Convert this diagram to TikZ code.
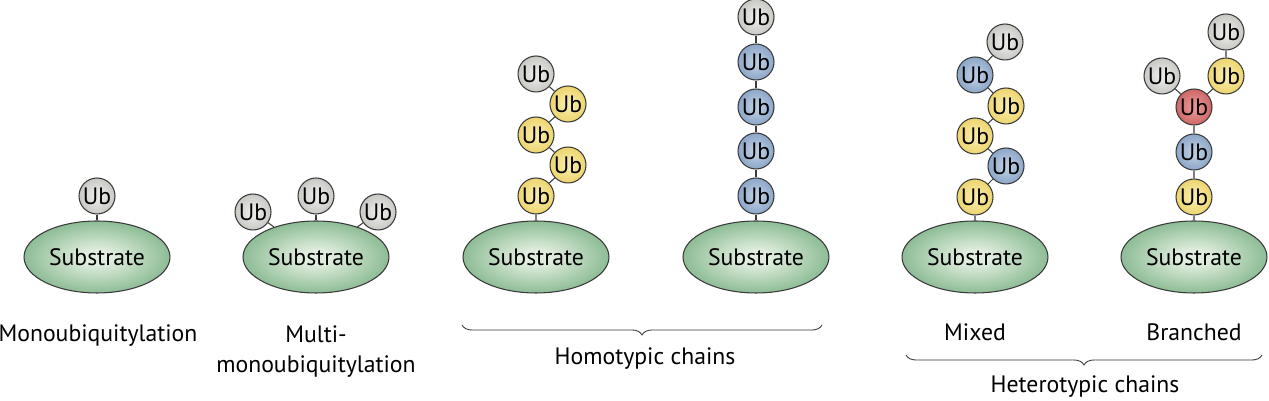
\documentclass[tikz,border=0pt]{standalone}
\usepackage{fontspec}
\setmainfont{PT Sans}
\usetikzlibrary{shapes.geometric,decorations.pathreplacing}

\definecolor{grayin}{HTML}{E8E9E6}
\definecolor{grayout}{HTML}{A9ABA5}
\definecolor{yelin}{HTML}{F8EAA4}
\definecolor{yelout}{HTML}{E2C03C}
\definecolor{bluein}{HTML}{B8CAE0}
\definecolor{blueout}{HTML}{6285B2}
\definecolor{redin}{HTML}{E69290}
\definecolor{redout}{HTML}{B63E40}
\definecolor{subin}{HTML}{E0EEDE}
\definecolor{subout}{HTML}{3F8D50}
\definecolor{edge}{HTML}{3A3A3A}
\colorlet{shin}{white}
\colorlet{shout}{black}
\pgfdeclareradialshading[shin,shout]{soft}{\pgfpointorigin}{color(0bp)=(shin); color(5bp)=(shin); color(44bp)=(shout); color(50bp)=(shout)}

\begin{document}
\begin{tikzpicture}[x=0.02cm,y=-0.02cm,
  ub/.style={circle,draw=edge,line width=0.6pt,minimum size=0.72cm,inner sep=0pt,shading=soft,font=\fontsize{13.5}{15}\selectfont},
  gy/.style={ub,/utils/exec={\colorlet{shin}{grayin}\colorlet{shout}{grayout}}},
  yl/.style={ub,/utils/exec={\colorlet{shin}{yelin}\colorlet{shout}{yelout}}},
  bl/.style={ub,/utils/exec={\colorlet{shin}{bluein}\colorlet{shout}{blueout}}},
  rd/.style={ub,/utils/exec={\colorlet{shin}{redin}\colorlet{shout}{redout}}},
  sub/.style={ellipse,draw=edge,line width=0.6pt,minimum width=2.92cm,minimum height=1.44cm,inner sep=0pt,shading=soft,
    /utils/exec={\colorlet{shin}{subin}\colorlet{shout}{subout}},font=\fontsize{13.5}{15}\selectfont},
  link/.style={draw=edge,line width=0.6pt},
  lbl/.style={inner sep=0pt,font=\fontsize{13.5}{17.5}\selectfont},
  brc/.style={draw=edge,line width=0.5pt,decorate,decoration={brace,mirror,amplitude=0.2cm}}]
\useasboundingbox (0,0) rectangle (1269,401);

% substrates
\node[sub] (sub1) at (97,257) {Substrate};
\node[sub] (sub2) at (316,257) {Substrate};
\node[sub] (sub3) at (536,257) {Substrate};
\node[sub] (sub4) at (756,257) {Substrate};
\node[sub] (sub5) at (975,257) {Substrate};
\node[sub] (sub6) at (1194,257) {Substrate};

% mono
\node[gy] (u1) at (97,196) {Ub};
\draw[link] (u1)--(sub1);

% multi-mono
\node[gy] (m1) at (253,212) {Ub};
\node[gy] (m2) at (316,196) {Ub};
\node[gy] (m3) at (378,212) {Ub};
\draw[link] (m1)--(sub2);
\draw[link] (m2)--(sub2);
\draw[link] (m3)--(sub2);

% homotypic, zig-zag
\node[yl] (h1) at (536,196) {Ub};
\node[yl] (h2) at (568,165) {Ub};
\node[yl] (h3) at (536,135) {Ub};
\node[yl] (h4) at (568,104) {Ub};
\node[gy] (h5) at (536,74) {Ub};
\draw[link] (sub3)--(h1)--(h2)--(h3)--(h4)--(h5);

% homotypic, straight
\node[bl] (k1) at (756,196) {Ub};
\node[bl] (k2) at (756,151) {Ub};
\node[bl] (k3) at (756,107) {Ub};
\node[bl] (k4) at (756,62) {Ub};
\node[gy] (k5) at (756,17) {Ub};
\draw[link] (sub4)--(k1)--(k2)--(k3)--(k4)--(k5);

% mixed
\node[yl] (x1) at (975,197) {Ub};
\node[bl] (x2) at (1006,166) {Ub};
\node[yl] (x3) at (975,136) {Ub};
\node[yl] (x4) at (1006,106) {Ub};
\node[bl] (x5) at (975,75) {Ub};
\node[gy] (x6) at (1005,42) {Ub};
\draw[link] (sub5)--(x1)--(x2)--(x3)--(x4)--(x5)--(x6);

% branched
\node[yl] (b1) at (1194,197) {Ub};
\node[bl] (b2) at (1194,152) {Ub};
\node[rd] (b3) at (1194,107) {Ub};
\node[gy] (b4) at (1162,76) {Ub};
\node[yl] (b5) at (1226,76) {Ub};
\node[gy] (b6) at (1226,32) {Ub};
\draw[link] (sub6)--(b1)--(b2)--(b3)--(b4);
\draw[link] (b3)--(b5)--(b6);

% labels
\node[lbl,anchor=base] (l1) at (98,342) {Monoubiquitylation};
\node[lbl,anchor=north,align=center] (l2) at (316,325) {Multi-\\monoubiquitylation};
\node[lbl,anchor=base] (l5) at (975,341) {Mixed};
\node[lbl,anchor=base] (l6) at (1194,341) {Branched};

% braces
\coordinate (hoA) at (462,325);
\coordinate (hoB) at (822,325);
\draw[brc] (hoA)--(hoB);
\node[lbl,anchor=base] (ho) at (645,365) {Homotypic chains};
\coordinate (heA) at (906,355);
\coordinate (heB) at (1262,355);
\draw[brc] (heA)--(heB);
\node[lbl,anchor=base] (he) at (1085,393) {Heterotypic chains};
\end{tikzpicture}
\end{document}
